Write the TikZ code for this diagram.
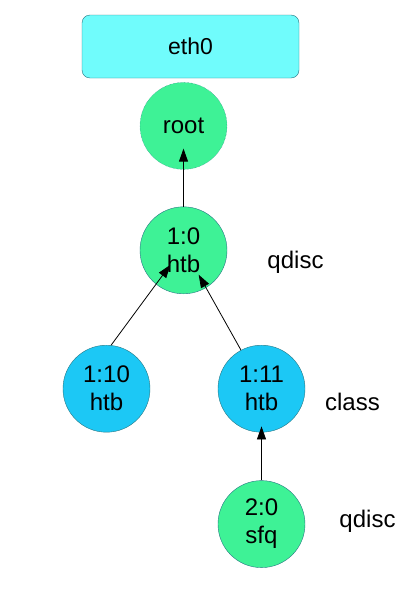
\documentclass[tikz,border=0pt]{standalone}
\usepackage{fontspec}
\setmainfont{Liberation Sans}
\usepackage{xcolor}
\definecolor{qgreen}{RGB}{62,242,150}
\definecolor{cblue}{RGB}{28,200,245}
\definecolor{devcyan}{RGB}{112,252,252}
\definecolor{rim}{RGB}{38,118,130}
\usetikzlibrary{arrows.meta,positioning,calc}
\tikzset{
  qdisc/.style={circle,draw=rim,fill=qgreen,minimum size=87pt,inner sep=0pt,%
    font=\fontsize{24}{28}\selectfont,align=center},
  klass/.style={qdisc,fill=cblue},
  device/.style={draw=rim,fill=devcyan,rounded corners=8pt,minimum width=217pt,%
    minimum height=63pt,font=\fontsize{23}{28}\selectfont},
  tag/.style={inner sep=0pt,font=\fontsize{24}{28}\selectfont},
  link/.style={-{Triangle[length=13pt,width=9pt]},line width=0.8pt,black},
}
\begin{document}
\begin{tikzpicture}
\useasboundingbox (0,0) rectangle (417pt,-589pt);
\node[device] (eth) at (190.5pt,-46.5pt) {eth0};
\node[qdisc,densely dotted,below=4pt of eth,xshift=-7pt] (root) {root};
\node[qdisc,below=37pt of root] (htb) {1:0\\htb};
\node[klass,below=51pt of htb,xshift=-77pt] (leafa) {1:10\\htb};
\node[klass,below=51pt of htb,xshift=78pt] (leafb) {1:11\\htb};
\node[qdisc,below=48pt of leafb] (sfq) {2:0\\sfq};
\draw[link,shorten >=-21pt] (htb) -- (root);
\draw[link,shorten >=-24pt] (leafa.84) -- (htb.231);
\draw[link,shorten >=-15pt] (leafb.118) -- (htb.301);
\draw[link,shorten >=-6pt] (sfq) -- (leafb);
\node[tag] at ($(htb)+(112pt,-12pt)$) {qdisc};
\node[tag] at ($(leafb)+(91pt,-13pt)$) {class};
\node[tag] at ($(sfq)+(106pt,3pt)$) {qdisc};
\end{tikzpicture}
\end{document}
